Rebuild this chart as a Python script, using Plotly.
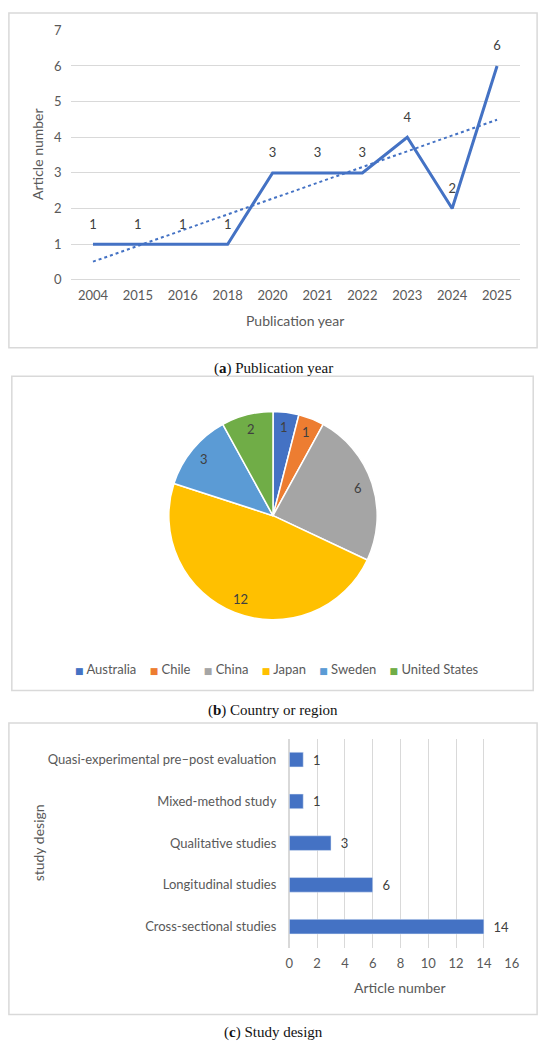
"""Three-panel summary figure: publication year, country and study design."""

import numpy as np
import plotly.graph_objects as go

W, H = 550, 1053

years = ["2004", "2015", "2016", "2018", "2020", "2021", "2022", "2023", "2024", "2025"]
articles_per_year = [1, 1, 1, 1, 3, 3, 3, 4, 2, 6]

countries = ["Australia", "Chile", "China", "Japan", "Sweden", "United States"]
articles_per_country = [1, 1, 6, 12, 3, 2]
country_colors = ["#4472C4", "#ED7D31", "#A5A5A5", "#FFC000", "#5B9BD5", "#70AD47"]

designs = [
    "Cross-sectional studies",
    "Longitudinal studies",
    "Qualitative studies",
    "Mixed-method study",
    "Quasi-experimental pre\u2013post evaluation",
]
articles_per_design = [14, 6, 3, 1, 1]

BLUE = "#4472C4"
GRID = "#d9d9d9"
TICK = "#595959"
LABEL = "#404040"
FONT = "Lato"
SERIF = "Liberation Serif"
NBSP = "\u00a0"


def px(x):
    return x / W


def py(y):
    return 1 - y / H


def note(text, x, y, size=13, color=TICK, family=FONT, angle=0):
    return {
        "x": px(x),
        "y": py(y),
        "xref": "paper",
        "yref": "paper",
        "xanchor": "center",
        "yanchor": "middle",
        "text": text,
        "textangle": angle,
        "showarrow": False,
        "font": {"family": family, "size": size, "color": color},
    }


# linear trendline over the category index, like Excel's
idx = np.arange(1, len(years) + 1)
slope, intercept = np.polyfit(idx, articles_per_year, 1)
trend = slope * idx + intercept

fig = go.Figure()

# (a) publication year
fig.add_trace(
    go.Scatter(
        x=years,
        y=articles_per_year,
        mode="lines+markers+text",
        line={"color": BLUE, "width": 3},
        marker={"size": 18, "color": "rgba(0,0,0,0)"},
        text=[str(v) for v in articles_per_year],
        textposition="top center",
        textfont={"family": FONT, "size": 13, "color": LABEL},
        showlegend=False,
        cliponaxis=False,
        xaxis="x",
        yaxis="y",
    )
)
fig.add_trace(
    go.Scatter(
        x=years,
        y=trend,
        mode="lines",
        line={"color": BLUE, "width": 2, "dash": "dot"},
        showlegend=False,
        xaxis="x",
        yaxis="y",
    )
)

# (b) country or region
pie_cx, pie_cy, pie_r = 275, 515.5, 106.5
fig.add_trace(
    go.Pie(
        labels=countries,
        values=articles_per_country,
        marker={"colors": country_colors, "line": {"color": "white", "width": 1.5}},
        sort=False,
        direction="clockwise",
        rotation=0,
        textinfo="none",
        hoverinfo="label+value",
        showlegend=False,
        domain={
            "x": [px(pie_cx - pie_r), px(pie_cx + pie_r)],
            "y": [py(pie_cy + pie_r), py(pie_cy - pie_r)],
        },
    )
)

# (c) study design
fig.add_trace(
    go.Bar(
        x=articles_per_design,
        y=designs,
        orientation="h",
        marker={"color": BLUE},
        text=[str(v) for v in articles_per_design],
        texttemplate=NBSP * 2 + "%{text}",
        textposition="outside",
        constraintext="none",
        textfont={"family": FONT, "size": 13, "color": LABEL},
        cliponaxis=False,
        showlegend=False,
        xaxis="x2",
        yaxis="y2",
    )
)

annotations = []

# pie value labels, placed near the rim at each slice's mid-angle
total = sum(articles_per_country)
start = 0
for v in articles_per_country:
    theta = 2 * np.pi * (start + v / 2) / total
    r = 0.855 * pie_r
    annotations.append(
        note(str(v), pie_cx + r * np.sin(theta), pie_cy - r * np.cos(theta), color=LABEL)
    )
    start += v

# Excel-style legend row under the pie
legend_items = [
    f"<span style='color:{c};font-size:9px;font-family:DejaVu Sans'>\u25a0</span>"
    + NBSP
    + name
    for name, c in zip(countries, country_colors)
]
annotations.append(note((NBSP * 4).join(legend_items), 279, 671))

annotations += [
    note("Article number", 35, 148, size=14, angle=-90),
    note("Publication year", 298, 317, size=14),
    note("study design", 35, 848, size=14, angle=-90),
    note("Article number", 405, 995, size=14),
]

captions = [
    ("(<b>a</b>) Publication year", 366),
    ("(<b>b</b>) Country or region", 713),
    ("(<b>c</b>) Study design", 1040),
]
for text, y in captions:
    annotations.append(note(text, 275, y, size=15, color="#111111", family=SERIF))

boxes = [(5, 5, 545, 345), (8, 374, 541, 693), (5, 726, 545, 1022)]
shapes = [
    {
        "type": "rect",
        "xref": "paper",
        "yref": "paper",
        "x0": px(x0),
        "x1": px(x1),
        "y0": py(y1),
        "y1": py(y0),
        "line": {"color": GRID, "width": 1.5},
        "layer": "below",
    }
    for x0, y0, x1, y1 in boxes
]

tick_font = {"family": FONT, "size": 13, "color": TICK}

fig.update_layout(
    width=W,
    height=H,
    margin={"l": 0, "r": 0, "t": 0, "b": 0},
    paper_bgcolor="white",
    plot_bgcolor="white",
    font={"family": FONT, "color": TICK},
    bargap=0.65,
    showlegend=False,
    annotations=annotations,
    shapes=shapes,
    xaxis={
        "domain": [px(68), px(527)],
        "type": "category",
        "range": [-0.5, len(years) - 0.5],
        "showgrid": False,
        "showline": False,
        "ticks": "",
        "tickfont": tick_font,
        "ticklabelstandoff": 6,
        "fixedrange": True,
    },
    yaxis={
        "domain": [py(276), py(22.7)],
        "range": [0, 7],
        "dtick": 1,
        "showgrid": True,
        "gridcolor": GRID,
        "gridwidth": 1,
        "zeroline": True,
        "zerolinecolor": GRID,
        "zerolinewidth": 1,
        "ticks": "",
        "tickfont": tick_font,
        "ticklabelstandoff": 8,
        "fixedrange": True,
    },
    xaxis2={
        "domain": [px(291.7), px(519)],
        "range": [0, 16],
        "dtick": 2,
        "showgrid": True,
        "gridcolor": GRID,
        "zeroline": True,
        "zerolinecolor": GRID,
        "ticks": "",
        "tickfont": tick_font,
        "ticklabelstandoff": 6,
        "anchor": "y2",
        "fixedrange": True,
    },
    yaxis2={
        "domain": [py(954), py(742)],
        "type": "category",
        "showgrid": False,
        "ticks": "",
        "tickfont": tick_font,
        "ticklabelstandoff": 12,
        "anchor": "x2",
        "fixedrange": True,
    },
)

# the default page body has an 8px margin; drop it so the figure sits at 0,0
fig.write_html(
    "out.html",
    config={"displayModeBar": False},
    post_script="document.body.style.margin = '0'; document.body.style.overflow = 'hidden';",
)
